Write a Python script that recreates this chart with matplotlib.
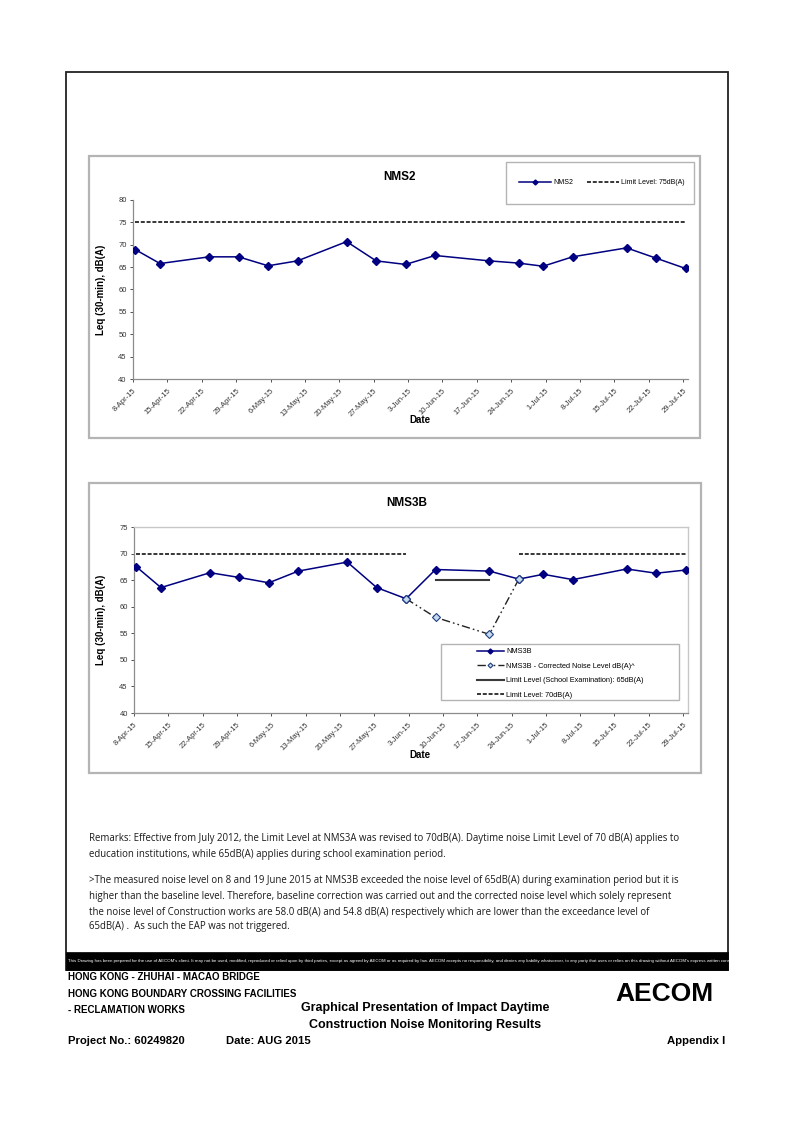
import matplotlib
matplotlib.use("Agg")
import matplotlib.pyplot as plt
import matplotlib.dates as mdates
from matplotlib.patches import Rectangle
import pandas as pd
import numpy as np

# ---------------- data ----------------
dates = ["2015-04-08", "2015-04-13", "2015-04-23", "2015-04-29", "2015-05-05",
         "2015-05-11", "2015-05-21", "2015-05-27", "2015-06-02", "2015-06-08",
         "2015-06-19", "2015-06-25", "2015-06-30", "2015-07-06", "2015-07-17",
         "2015-07-23", "2015-07-29"]
nms2 = [68.9, 65.8, 67.3, 67.3, 65.3, 66.4, 70.7, 66.4, 65.6, 67.6,
        66.4, 65.9, 65.2, 67.3, 69.3, 67.0, 64.7]
nms3b = [67.5, 63.6, 66.4, 65.5, 64.5, 66.7, 68.4, 63.6, 61.5, 67.0,
         66.7, 65.2, 66.1, 65.1, 67.1, 66.3, 66.9]
corr_dates = ["2015-06-02", "2015-06-08", "2015-06-19", "2015-06-25"]
corr_vals = [61.5, 58.0, 54.8, 65.2]
nms2_limit = 75
nms3b_limit = 70
nms3b_limit_seg1 = ["2015-04-08", "2015-06-02"]
nms3b_limit_seg2 = ["2015-06-25", "2015-07-29"]
exam_limit = 65
exam_dates = ["2015-06-08", "2015-06-19"]
tick_start, tick_end = "2015-04-08", "2015-07-29"

W, H = 794, 1122
fig = plt.figure(figsize=(W / 100, H / 100), dpi=100)
plt.rcParams['font.family'] = ['Liberation Sans', 'DejaVu Sans']

def fx(x):
    return x / W

def fy(y):
    return 1 - y / H

def frect(x0, y0, x1, y1, **kw):
    r = Rectangle((fx(x0), fy(y1)), fx(x1) - fx(x0), fy(y0) - fy(y1),
                  transform=fig.transFigure, **kw)
    fig.add_artist(r)
    return r

def ftext(x, y, s, **kw):
    return fig.text(fx(x), fy(y), s, **kw)

def add_ax(x0, y0, x1, y1):
    return fig.add_axes([fx(x0), fy(y1), fx(x1) - fx(x0), fy(y0) - fy(y1)])

off = pd.Timedelta(hours=12)
d = pd.to_datetime(dates) + off
NAVY = "#000080"
GRAY = "#8c8c8c"
FRAME = "#b4b4b4"

def style_axis(ax, ymin, ymax, framed):
    t0 = pd.Timestamp(tick_start)
    t1 = pd.Timestamp(tick_end)
    ax.set_xlim(t0, t1 + pd.Timedelta(days=1))
    ax.set_ylim(ymin, ymax)
    ax.set_yticks(np.arange(ymin, ymax + 1, 5))
    ax.set_xticks(pd.date_range(t0, t1, freq="7D"))
    ax.xaxis.set_major_formatter(mdates.DateFormatter('%-d-%b-%y'))
    for lab in ax.get_xticklabels():
        lab.set_rotation(45)
        lab.set_ha('right')
        lab.set_rotation_mode('anchor')
    ax.tick_params(axis='both', labelsize=5.5, colors='#333333', length=2.5,
                   width=0.6, pad=2)
    ax.tick_params(axis='x', pad=3.5)
    for s in ['left', 'bottom']:
        ax.spines[s].set_color(GRAY)
        ax.spines[s].set_linewidth(0.9)
    for s in ['top', 'right']:
        if framed:
            ax.spines[s].set_color('#c8c8c8')
            ax.spines[s].set_linewidth(1.0)
        else:
            ax.spines[s].set_visible(False)
    ax.set_facecolor('white')

# ---------------- outer frame ----------------
frect(66, 72, 728, 970, fill=False, edgecolor='#222222', linewidth=1.3, zorder=1)

# ---------------- chart 1 ----------------
frect(89, 156, 700, 438, fill=False, edgecolor=FRAME, linewidth=1.6)
ax1 = add_ax(133, 200, 688, 379)
style_axis(ax1, 40, 80, framed=False)
l_lim1, = ax1.plot([pd.Timestamp(tick_start) + off, pd.Timestamp(tick_end) + off],
                   [nms2_limit, nms2_limit], color='black', lw=1.1,
                   dashes=(2.6, 1.2), label='Limit Level: 75dB(A)')
l_n2, = ax1.plot(d, nms2, color=NAVY, lw=1.1, marker='D', ms=4.2,
                 label='NMS2', zorder=3)
ftext(400, 177, "NMS2", ha='center', va='center', fontsize=8.5, fontweight='bold')
ftext(101, 290, "Leq (30-min), dB(A)", ha='center', va='center', rotation=90,
      fontsize=7, fontweight='bold')
ftext(420, 420, "Date", ha='center', va='center', fontsize=7, fontweight='bold')
frect(506, 162, 694, 204, fill=False, edgecolor=FRAME, linewidth=1.0)
leg1 = fig.legend(handles=[l_n2, l_lim1], loc='center left', ncol=2,
                  bbox_to_anchor=(fx(519), fy(183)),
                  bbox_transform=fig.transFigure, fontsize=5,
                  frameon=False, borderpad=0, borderaxespad=0,
                  handlelength=4.6, columnspacing=1.9,
                  markerscale=0.6, handletextpad=0.35)

# ---------------- chart 2 ----------------
frect(89, 483, 701, 773, fill=False, edgecolor=FRAME, linewidth=1.6)
ax2 = add_ax(134, 527, 688, 713)
style_axis(ax2, 40, 75, framed=True)
s1 = pd.to_datetime(nms3b_limit_seg1) + off
s2 = pd.to_datetime(nms3b_limit_seg2) + off
l_lim2, = ax2.plot(s1, [nms3b_limit] * 2, color='black', lw=1.1,
                   dashes=(2.6, 1.2), label='Limit Level: 70dB(A)')
ax2.plot(s2, [nms3b_limit] * 2, color='black', lw=1.1, dashes=(2.6, 1.2))
ed = pd.to_datetime(exam_dates) + off
l_exam, = ax2.plot(ed, [exam_limit] * 2, color='#3a3a3a', lw=1.5,
                   label='Limit Level (School Examination): 65dB(A)')
cd = pd.to_datetime(corr_dates) + off
l_corr, = ax2.plot(cd, corr_vals, color='#222222', lw=1.0,
                   dashes=(6, 2.2, 1.2, 2.2, 1.2, 2.2), marker='D', ms=4.2,
                   mfc='#c5d9f1', mec='#1f3f7f', mew=0.8, zorder=4,
                   label='NMS3B - Corrected Noise Level dB(A)^')
l_n3, = ax2.plot(d, nms3b, color=NAVY, lw=1.1, marker='D', ms=4.2,
                 label='NMS3B', zorder=3)
ftext(407, 503, "NMS3B", ha='center', va='center', fontsize=8.5, fontweight='bold')
ftext(101, 620, "Leq (30-min), dB(A)", ha='center', va='center', rotation=90,
      fontsize=7, fontweight='bold')
ftext(420, 755, "Date", ha='center', va='center', fontsize=7, fontweight='bold')
frect(441, 644, 679, 700, fill=False, edgecolor=FRAME, linewidth=1.0)
leg2 = fig.legend(handles=[l_n3, l_corr, l_exam, l_lim2], loc='upper left', ncol=1,
                  bbox_to_anchor=(fx(477), fy(648)),
                  bbox_transform=fig.transFigure, fontsize=5.3,
                  frameon=False, borderpad=0, borderaxespad=0,
                  handlelength=3.6, labelspacing=1.0,
                  markerscale=0.6, handletextpad=0.4)

# ---------------- remarks ----------------
remark_font = ['Open Sans', 'DejaVu Sans']
rlines = [
    (839, "Remarks: Effective from July 2012, the Limit Level at NMS3A was revised to 70dB(A). Daytime noise Limit Level of 70 dB(A) applies to"),
    (855, "education institutions, while 65dB(A) applies during school examination period."),
    (880, ">The measured noise level on 8 and 19 June 2015 at NMS3B exceeded the noise level of 65dB(A) during examination period but it is"),
    (896, "higher than the baseline level. Therefore, baseline correction was carried out and the corrected noise level which solely represent"),
    (912, "the noise level of Construction works are 58.0 dB(A) and 54.8 dB(A) respectively which are lower than the exceedance level of"),
    (927, "65dB(A) .  As such the EAP was not triggered."),
]
for y, s in rlines:
    ftext(89, y, s, ha='left', va='center', fontsize=6.92, family=remark_font,
          color='#1a1a1a')

# ---------------- disclaimer band ----------------
band = frect(66, 952, 728, 970, facecolor='black', edgecolor='black', linewidth=0.5)
disc = ("This Drawing has been prepared for the use of AECOM's client. It may not be used, "
        "modified, reproduced or relied upon by third parties, except as agreed by AECOM or as "
        "required by law. AECOM accepts no responsibility, and denies any liability whatsoever, "
        "to any party that uses or relies on this drawing without AECOM's express written consent.")
ftext(68, 961, disc, ha='left', va='center', fontsize=3.15, color='white',
      family=['Liberation Sans Narrow', 'Liberation Sans'])

# ---------------- footer ----------------
for y, s in [(977, "HONG KONG - ZHUHAI - MACAO BRIDGE"),
             (994, "HONG KONG BOUNDARY CROSSING FACILITIES"),
             (1010, "- RECLAMATION WORKS")]:
    ftext(68, y, s, ha='left', va='center', fontsize=7.0, fontweight='bold')
ftext(425, 1008, "Graphical Presentation of Impact Daytime", ha='center', va='center',
      fontsize=9.0, fontweight='bold')
ftext(425, 1025, "Construction Noise Monitoring Results", ha='center', va='center',
      fontsize=9.0, fontweight='bold')
ftext(68, 1041, "Project No.: 60249820", ha='left', va='center', fontsize=8.1,
      fontweight='bold')
ftext(226, 1041, "Date: AUG 2015", ha='left', va='center', fontsize=8.1,
      fontweight='bold')
ftext(725, 1041, "Appendix I", ha='right', va='center', fontsize=8.2,
      fontweight='bold')
ftext(664, 994, "AECOM", ha='center', va='center', fontsize=19, fontweight='bold',
      family=['Liberation Sans Narrow', 'Liberation Sans'])

fig.savefig("out.png", dpi=100, facecolor='white')
